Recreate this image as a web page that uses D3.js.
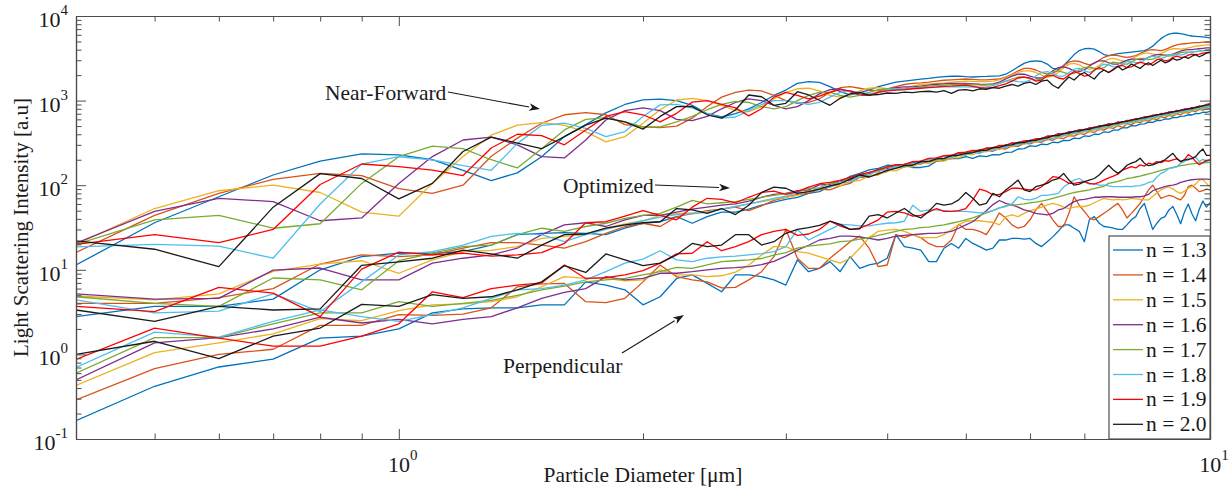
<!DOCTYPE html>
<html><head><meta charset="utf-8">
<script src="https://cdn.jsdelivr.net/npm/d3@7/dist/d3.min.js"></script>
<style>
body{margin:0;background:#fff}
svg text{font-family:"Liberation Serif","Times New Roman",serif;fill:#1a1a1a}
</style>
</head><body>
<svg id="chart" width="1231" height="491"></svg>
<script>
// ---------- DATA ----------
const diameters = [0.4,0.5,0.6,0.7,0.8,0.9,1.0,
1.1,1.2,1.3,1.4,1.5,1.6,1.7,1.8,1.9,2.0,
2.1,2.2,2.3,2.4,2.5,2.6,2.7,2.8,2.9,3.0,
3.1,3.2,3.3,3.4,3.5,3.6,3.7,3.8,3.9,4.0,
4.1,4.2,4.3,4.4,4.5,4.6,4.7,4.8,4.9,5.0,
5.1,5.2,5.3,5.4,5.5,5.6,5.7,5.8,5.9,6.0,
6.1,6.2,6.3,6.4,6.5,6.6,6.7,6.8,6.9,7.0,
7.1,7.2,7.3,7.4,7.5,7.6,7.7,7.8,7.9,8.0,
8.1,8.2,8.3,8.4,8.5,8.6,8.7,8.8,8.9,9.0,
9.1,9.2,9.3,9.4,9.5,9.6,9.7,9.8,9.9,10.0];

const seriesLabels = ["n = 1.3","n = 1.4","n = 1.5","n = 1.6","n = 1.7","n = 1.8","n = 1.9","n = 2.0"];

// Near-forward scattering
const nf13 = [11.4,36,73,132,193,235,228,
200,150,113,140,217,375,520,717,900,1020,
1040,1000,880,700,640,700,800,950,1150,1333,
1600,1675,1640,1460,1275,1165,1240,1333,1460,1560,
1650,1700,1750,1790,1830,1880,1920,1940,1950,1920,
1900,1920,1930,1950,1960,2050,2250,2500,2750,2900,
2950,2900,2700,2400,2350,2600,3000,3500,3900,4100,
4150,4050,3800,3500,3400,3500,3600,3650,3700,3750,
3800,3850,3900,4100,4400,4900,5400,5800,6100,6250,
6250,6200,6050,5900,5800,5750,5700,5650,5600,5500];
const nf14 = [16,44,80,117,138,130,91,
80,100,220,360,540,680,720,680,520,490,
480,500,620,850,1100,1250,1330,1300,1150,1000,
930,950,1050,1250,1420,1460,1400,1330,1300,1380,
1460,1550,1600,1620,1650,1700,1740,1760,1780,1800,
1780,1760,1760,1780,1800,1900,2050,2250,2400,2400,
2300,2150,2050,2100,2300,2600,2850,2950,2900,2750,
2650,2750,3000,3250,3400,3450,3400,3300,3250,3300,
3400,3600,3800,3950,4000,3950,3900,4000,4200,4400,
4550,4650,4700,4750,4800,4850,4850,4900,4900,4900];
const nf15 = [20,53,86,100,82,48,43,
105,218,390,512,550,510,430,325,375,540,
780,1016,1060,1000,880,760,740,850,1050,1250,
1380,1400,1300,1150,1100,1180,1300,1400,1420,1380,
1350,1400,1480,1550,1580,1600,1620,1650,1680,1700,
1690,1680,1680,1700,1760,1860,2000,2150,2250,2250,
2150,2000,1900,1950,2150,2450,2700,2750,2650,2450,
2350,2400,2600,2900,3100,3150,3050,2950,2950,3100,
3300,3500,3650,3650,3550,3500,3600,3800,4000,4100,
4100,4050,4100,4200,4300,4400,4450,4500,4550,4600];
const nf16 = [20.6,49,70,64,38,41,105,
218,342,370,300,218,210,342,590,760,820,
760,600,580,650,800,950,1050,1000,880,800,
850,1000,1200,1350,1380,1280,1150,1150,1250,1350,
1420,1450,1450,1480,1520,1560,1580,1600,1600,1600,
1580,1560,1550,1580,1650,1800,1950,2050,2050,1950,
1850,1850,2000,2250,2450,2500,2400,2250,2200,2300,
2550,2800,2950,2950,2800,2700,2700,2850,3000,3100,
3100,3050,3100,3250,3400,3500,3500,3450,3450,3550,
3700,3850,3950,4000,4000,4050,4100,4150,4200,4200];
const nf17 = [20,39,44,31,35,105,217,
290,270,200,160,270,450,600,630,560,490,
490,560,650,780,900,980,950,850,800,850,
1000,1150,1250,1250,1150,1100,1150,1250,1350,1380,
1350,1350,1400,1450,1480,1500,1520,1540,1550,1550,
1540,1530,1530,1550,1600,1700,1800,1900,1900,1800,
1750,1800,2000,2200,2250,2150,2050,2100,2300,2450,
2500,2400,2350,2450,2700,2850,2800,2700,2700,2850,
3050,3150,3150,3050,3100,3250,3400,3400,3350,3400,
3550,3700,3750,3750,3750,3800,3850,3900,3900,3900];
const nf18 = [18.7,20,19,13.7,60,178,217,
199,170,150,310,510,540,470,375,430,650,
890,900,820,700,620,640,760,900,1000,1000,
950,900,950,1100,1250,1300,1250,1200,1250,1350,
1380,1380,1400,1420,1440,1450,1450,1450,1450,1450,
1440,1440,1450,1500,1600,1700,1720,1680,1650,1750,
1950,2150,2200,2100,1950,1950,2150,2350,2400,2250,
2150,2250,2500,2700,2650,2500,2500,2700,2900,2900,
2800,2800,3000,3250,3350,3250,3150,3250,3450,3550,
3500,3450,3550,3700,3800,3800,3850,3900,3950,4000];
const nf19 = [20,26,21,30,102,178,166,
151,130,275,400,385,300,450,650,740,680,
560,707,960,1000,900,820,660,800,1100,1250,
1150,1050,1130,1250,1350,1300,1200,1150,1250,1300,
1330,1350,1380,1400,1420,1440,1470,1480,1500,1520,
1470,1420,1400,1430,1500,1580,1700,1850,1900,1850,
1700,1750,1950,2000,1850,1800,2000,2200,2100,1950,
2000,2300,2450,2300,2150,2300,2550,2600,2450,2500,
2700,2850,2750,2650,2800,3050,3100,2950,3000,3250,
3350,3250,3250,3450,3550,3500,3550,3650,3700,3750];
const nf20 = [22,17.5,10.9,55,137,120,69,
105,250,370,315,270,375,512,620,560,460,
650,850,850,680,620,774,1165,1110,880,930,
1275,1165,1010,880,1065,1200,1250,1160,1180,1230,
1220,1260,1240,1280,1290,1260,1310,1220,1330,1350,
1300,1380,1360,1420,1400,1480,1550,1480,1600,1650,
1550,1700,1750,1520,1400,1650,1900,1750,2000,2150,
1950,1800,2100,2300,2150,2350,2550,2300,2450,2700,
2550,2400,2650,2800,2600,2800,3000,2800,2900,3150,
3000,3100,3300,3150,3350,3500,3300,3450,3650,3700];

// Optimized angle
const op13 = [2.8,3.7,3.7,4.5,10,14.3,15.7,
15.7,16.4,19.6,26,27,27.5,27,26,31,35.5,
37,42.5,35.5,42.5,48,48,52,58,63,68,
72,80,84,97,108,127,138,152,158,172,
170,172,162,162,168,192,196,208,206,218,
208,222,218,230,228,245,246,268,270,292,
288,305,302,322,318,338,336,360,356,382,
378,400,398,428,420,448,448,478,476,505,
502,528,530,558,554,585,582,606,604,628,
628,652,656,680,676,705,700,728,724,748];
const op14 = [4.0,4.0,4.7,6.0,11.7,15,14.3,
15,18,21,21,19.6,18,21.5,27,32.5,35.5,
32.5,42.5,46,50,52,55,50,57,66,72,
78,80,90,88,98,105,124,125,138,145,
164,165,176,177,192,192,205,206,228,228,
246,240,258,252,272,268,292,288,312,308,
328,322,348,340,366,356,385,380,410,400,
432,420,458,448,482,470,505,482,530,520,
560,548,585,572,612,598,640,626,670,652,
696,680,726,710,756,742,788,772,828,812];
const op15 = [4.9,4.4,5.2,9.6,11.7,12.8,9.1,
13.1,16.4,17,18.8,23.5,24.8,26,31,35,38,
44,46,47,48,52,56,60,64,68,72,
76,86,88,99,98,112,113,130,132,150,
148,165,166,186,180,196,192,212,210,232,
228,252,248,270,262,290,284,316,306,332,
320,350,342,374,360,392,380,418,404,438,
424,462,448,486,472,512,498,538,522,562,
546,590,576,622,604,650,634,678,660,702,
686,732,716,762,746,792,776,822,806,850];
const op16 = [5.2,4.5,4.6,9.9,10.5,7.6,7.6,
12,13.7,15,18,26,34,36,32.5,39,44,
44,48,52,55,58,60,65,72,78,80,
86,88,101,102,114,115,132,137,155,157,
174,171,186,184,203,200,222,220,240,234,
252,250,274,270,295,290,316,308,330,325,
352,350,382,380,408,400,430,425,455,446,
478,470,505,500,535,525,560,550,585,575,
612,605,645,635,675,662,705,695,738,725,
768,755,798,785,830,815,862,845,890,905];
const op17 = [4.8,4.0,3.7,8.0,7.6,5.8,12.8,
15.7,18.8,19.6,26,31,28.5,32.5,35.5,40.5,44,
46.5,55,66,60,62,64,68,72,76,80,
83,92,93,105,107,122,124,142,144,163,
160,178,175,194,190,208,204,226,224,246,
244,264,258,280,274,300,294,320,314,340,
334,360,354,382,372,402,395,430,420,452,
440,478,466,504,490,528,515,555,538,580,
562,608,590,638,618,668,648,700,678,728,
702,756,730,786,760,818,790,848,820,880];
const op18 = [4.4,3.1,3.25,5.2,3.2,7.2,15,
16.4,19.6,24.8,27,26,21.5,26,30,34,38,
42,45,46,48,52,56,60,65,70,74,
82,83,93,94,108,109,127,131,150,151,
168,164,182,180,202,200,220,212,233,226,
246,240,260,256,282,276,302,296,322,316,
338,334,360,354,384,380,412,404,432,426,
455,448,480,472,508,500,534,526,556,548,
582,575,612,604,644,634,674,664,706,694,
734,720,762,748,794,778,824,808,856,846];
const op19 = [3.7,3.2,6.2,5.3,2.8,10.2,16.2,
15,15.7,14.5,15,16,20.5,36,37,43,50,
44,39,55,70,68,62,72,82,85,78,
84,95,104,108,114,124,134,142,152,165,
175,176,190,192,208,210,224,226,242,246,
258,260,274,278,294,298,314,318,334,338,
352,358,376,382,398,404,422,430,448,454,
472,478,500,506,526,532,552,558,580,586,
610,616,638,644,668,674,698,702,726,732,
756,762,786,792,818,826,858,866,900,920];
const op20 = [3.35,2.45,3.7,3.35,3.45,11.3,12.4,
13.7,17.1,15.4,13.7,19.6,26,26.5,31,34,36,
37,53,51,46.5,53,45,58,82,95,92,
80,84,90,98,104,118,132,125,136,150,
158,170,172,190,190,205,208,224,226,238,
242,258,258,278,280,298,300,320,318,336,
338,358,362,385,386,410,412,435,436,458,
458,485,488,512,510,535,538,565,568,592,
596,622,626,652,656,682,686,712,716,742,
746,772,776,802,806,835,840,872,880,910];

// Perpendicular scattering
const pp13 = [0.165,0.42,0.71,0.88,1.56,1.64,2.0,
3.1,3.45,3.55,3.55,3.85,3.85,7.2,6.6,5.8,3.85,
4.8,7.9,8.7,6.9,5.5,8.7,8.7,8.3,7.6,6.6,
13.1,9.5,10.4,12.5,9.5,14.3,10.4,11.4,12,13.7,
26,18.8,18,17.1,12.5,12.5,18,20.5,18,23.5,
20.5,18.8,17.1,18,22.5,22.5,23.5,23.5,23,23.5,
20.5,18.8,21.5,24.5,28.5,34,34,31,28.5,21.5,
39,42.5,35.5,32.5,32,31,30,30,34,39,
42.5,53,61,42.5,30,35.5,40.5,42.5,51,56,
45,35,48,60,46,38,52,65,55,62];
const pp14 = [0.29,0.68,1.0,1.15,2.2,2.2,2.95,
2.9,3.0,3.55,6.3,6.8,6.9,4.2,4.1,4.6,7.2,
11.4,8.3,7.6,7.2,6.1,6.2,7.6,9.5,14.3,30,
13.7,10.4,10.4,13.7,17.1,21.5,25,18,10.9,11.4,
26,24,26,24,20.5,18.8,18.8,22.5,34.5,30,
30,28.5,26,34.5,47,41,34,31,32.5,39,
51,61,49,39,32.5,32.5,46.5,73,58,49,
41,39,42.5,46.5,51,56,61,51,41,46.5,
53,61,73,88,100,84,70,73,76,74,
70,67,76,96,100,92,84,86,90,88];
const pp15 = [0.43,1.05,1.37,1.75,2.65,2.5,3.3,
3.85,3.95,4.2,4.8,6.3,8.3,7.9,7.9,7.4,7.6,
10,8.7,8.7,8.3,8.5,9.4,11.4,15,18.8,18.8,
16.4,15.7,14.3,13.1,12,13.7,18,24,28.5,29.5,
30,28.5,26,24,24,24,26,30,34,37.5,
38,38,37,36.5,34,42.5,44.5,42.5,46.5,50,
52,55,58.5,61,58.5,55,53,55,56,56,
58,62,66,70,68,67,68,67,68,70,
69,68,67,67,74,81,88,92,96,90,
84,80,85,92,96,103,115,117,105,96];
const pp16 = [0.5,1.37,1.58,2.0,2.75,2.35,2.6,
2.3,2.6,2.8,3.55,4.6,5.4,6.0,8.3,7.6,7.9,
9.1,9.1,9.5,10,10.4,10.6,10.9,11.5,12.6,14.5,
17.1,19.5,22.5,23.5,25,25,24.5,23.5,22.5,23.5,
25,25.5,26,26.5,27,27,27.5,28.5,31,34,
37,43,50,59,66,61,58.5,55,51,49,
46.5,45.5,44.5,46.5,51,53,58.5,64,67,68,
70,72,72,73,73,73,72,72,72,72,
73,73,75,78,86,90,93,96,99,100,
103,108,111,114,116,117,118,118,118,117];
const pp17 = [0.6,1.58,1.58,2.3,3.1,3.1,4.2,
3.7,4.0,4.35,5.0,5.8,6.4,7.2,7.6,7.9,8.7,
9.5,10.7,10.4,11.4,12.5,12.8,13.1,13.6,14.9,16,
18,19,19.7,20.2,21.5,22,23,24,25.5,27,
28.5,30,30.5,31.5,32,33,34,35.5,37,39,
41,44,47,50,54,57,58,59,60,62,
63,65,67,70,73,76,79,82,84,86,
88,91,94,97,105,108,111,115,120,122,
125,128,132,136,140,145,150,154,158,162,
166,170,173,176,179,181,183,184,185,186];
const pp18 = [0.7,1.83,1.6,2.45,3.35,2.8,2.45,
2.95,3.55,4.6,5.8,6.0,6.6,7.6,9.5,12,13.4,
16.8,13.1,12.5,13.7,14.2,14.5,15,15.5,16.4,18.8,
30,22.5,26,30,34.5,34,33,33,34.5,35.5,
36,37.5,58,49,51,51,50,49,49,49,
48,47,48,50,54,56,60,73,68,67,
70,76,76,78,80,95,105,115,120,110,
103,105,100,100,98,96,96,96,97,96,
98,99,102,108,110,125,138,145,158,160,
165,182,190,210,205,215,190,203,190,199];
const pp19 = [0.87,2.05,1.56,1.25,1.25,1.64,2.3,
5.5,4.7,6.0,6.6,7.0,11.4,7.9,8.1,8.7,9.8,
12,15.4,15.7,21.5,16.8,18.8,21.5,26,28.5,30,
25.5,26.5,30,37.5,33,30,31,34.5,39,48,
49,47,43,44,48,53,49,49,50,53,
67,90,85,77,78,84,92,92,90,88,
88,96,110,126,124,115,105,105,108,110,
105,103,108,115,122,128,135,151,158,166,
160,174,168,182,178,190,185,195,192,199,
205,190,200,230,215,190,175,185,195,199];
const pp20 = [1.0,1.43,0.89,1.64,2.05,3.9,3.7,
5.1,4.6,4.8,5.8,7.2,11.2,9.3,15.4,13.1,11.2,
12,15,20.5,18.8,19.6,26,26,19.6,21.5,27,
30,31.5,33.5,37.5,34.5,30,30.5,43,45,41,
47,53,45,41,49,61,58,60,67,82,
70,58,61,80,73,88,100,115,88,84,
96,100,105,115,120,138,115,100,103,110,
115,120,132,151,172,151,138,151,172,182,
190,208,182,170,174,182,190,200,218,238,
208,190,199,200,208,218,245,268,225,225];

const nearForward   = [nf13,nf14,nf15,nf16,nf17,nf18,nf19,nf20];
const optimized     = [op13,op14,op15,op16,op17,op18,op19,op20];
const perpendicular = [pp13,pp14,pp15,pp16,pp17,pp18,pp19,pp20];

const xMajorTicks = [1, 10];
const xTickLabels = ["0", "1"];
const yMajorTicks = [0.1, 1, 10, 100, 1000, 10000];
const yTickLabels = ["-1", "0", "1", "2", "3", "4"];
const xMinorTicks = [0.5,0.6,0.7,0.8,0.9,2,3,4,5,6,7,8,9];

// ---------- STYLE ----------
const colors = ["#0072BD","#D95319","#EDB120","#7E2F8E","#77AC30","#4DBEEE","#FF0000","#1a1a1a"];
const axisColor = "#4d4d4d";

const svg = d3.select("#chart");
const L = 76, R = 1210, T = 16, B = 439;
const x = d3.scaleLog().domain([0.4, 10]).range([L, R]);
const y = d3.scaleLog().domain([0.1, 10000]).range([B, T]);

const yMinorTicks = [];
yMajorTicks.slice(0, -1).forEach(v => { for (let m = 2; m <= 9; m++) yMinorTicks.push(v * m); });

svg.append("defs").append("clipPath").attr("id", "clip")
  .append("rect").attr("x", L).attr("y", T).attr("width", R - L).attr("height", B - T);

// lines
const line = d3.line().x((d, i) => x(diameters[i])).y(d => y(d));
const gLines = svg.append("g").attr("clip-path", "url(#clip)");
for (let s = 0; s < 8; s++) {
  [nearForward[s], optimized[s], perpendicular[s]].forEach(arr => {
    gLines.append("path").datum(arr.slice(0, diameters.length))
      .attr("d", line).attr("fill", "none")
      .attr("stroke", colors[s]).attr("stroke-width", 1.3)
      .attr("stroke-linejoin", "round");
  });
}

// axes (ticks inward on all four sides)
function styleAxis(g) {
  g.selectAll("path.domain").attr("stroke", axisColor).attr("stroke-width", 1.2);
  g.selectAll(".tick line").attr("stroke", axisColor).attr("stroke-width", 1);
  g.selectAll(".tick text").remove();
}
const maj = 10, mnr = 5.5;
[[d3.axisBottom, B, xMajorTicks, maj], [d3.axisBottom, B, xMinorTicks, mnr],
 [d3.axisTop, T, xMajorTicks, maj], [d3.axisTop, T, xMinorTicks, mnr]].forEach(([fn, pos, tv, len]) => {
  svg.append("g").attr("transform", `translate(0,${pos})`)
    .call(fn(x).tickValues(tv).tickSize(-len).tickSizeOuter(0).tickFormat(""))
    .call(styleAxis);
});
[[d3.axisLeft, L, yMajorTicks, maj], [d3.axisLeft, L, yMinorTicks, mnr],
 [d3.axisRight, R, yMajorTicks, maj], [d3.axisRight, R, yMinorTicks, mnr]].forEach(([fn, pos, tv, len]) => {
  svg.append("g").attr("transform", `translate(${pos},0)`)
    .call(fn(y).tickValues(tv).tickSize(-len).tickSizeOuter(0).tickFormat(""))
    .call(styleAxis);
});

// tick labels 10^k
yMajorTicks.forEach((v, i) => {
  const t = svg.append("text").attr("x", 68).attr("y", y(v) + 11)
    .attr("text-anchor", "end").attr("font-size", 22).text("10");
  t.append("tspan").attr("dy", -12).attr("font-size", 15).text(yTickLabels[i]);
});
xMajorTicks.forEach((v, i) => {
  const t = svg.append("text").attr("x", x(v) + 4).attr("y", 472)
    .attr("text-anchor", "middle").attr("font-size", 22).text("10");
  t.append("tspan").attr("dy", -12).attr("font-size", 15).text(xTickLabels[i]);
});

// axis titles
svg.append("text").attr("x", (L + R) / 2).attr("y", 482).attr("text-anchor", "middle")
  .attr("font-size", 21.5).text("Particle Diameter [\u03bcm]");
svg.append("text").attr("transform", `translate(28,${(T + B) / 2}) rotate(-90)`)
  .attr("text-anchor", "middle").attr("font-size", 21).text("Light Scattering Intensity [a.u]");

// annotations
function arrow(x1, y1, x2, y2) {
  const a = Math.atan2(y2 - y1, x2 - x1), len = 11, w = 3.8;
  const bx = x2 - len * Math.cos(a), by = y2 - len * Math.sin(a);
  svg.append("line").attr("x1", x1).attr("y1", y1).attr("x2", bx).attr("y2", by)
    .attr("stroke", "#1a1a1a").attr("stroke-width", 1.1);
  svg.append("path").attr("fill", "#1a1a1a").attr("d",
    `M${x2},${y2}L${bx + w * Math.sin(a)},${by - w * Math.cos(a)}L${bx + 3 * Math.cos(a)},${by + 3 * Math.sin(a)}L${bx - w * Math.sin(a)},${by + w * Math.cos(a)}Z`);
}
svg.append("text").attr("x", 325).attr("y", 99.5).attr("font-size", 21.5).text("Near-Forward");
arrow(448, 92, 540, 109);
svg.append("text").attr("x", 563).attr("y", 193).attr("font-size", 21.5).text("Optimized");
arrow(655, 185, 730, 188);
svg.append("text").attr("x", 503).attr("y", 373).attr("font-size", 21.5).text("Perpendicular");
arrow(622, 353, 684, 315);

// legend
const lg = svg.append("g");
lg.append("rect").attr("x", 1109).attr("y", 236).attr("width", R - 1109).attr("height", B - 236)
  .attr("fill", "#fff").attr("stroke", axisColor).attr("stroke-width", 1.2);
seriesLabels.forEach((lab, i) => {
  const cy = 250 + i * 24.9;
  lg.append("line").attr("x1", 1113).attr("x2", 1143).attr("y1", cy).attr("y2", cy)
    .attr("stroke", colors[i]).attr("stroke-width", 1.3);
  lg.append("text").attr("x", 1146).attr("y", cy + 7).attr("font-size", 21.5).text(lab);
});
</script>
</body></html>
